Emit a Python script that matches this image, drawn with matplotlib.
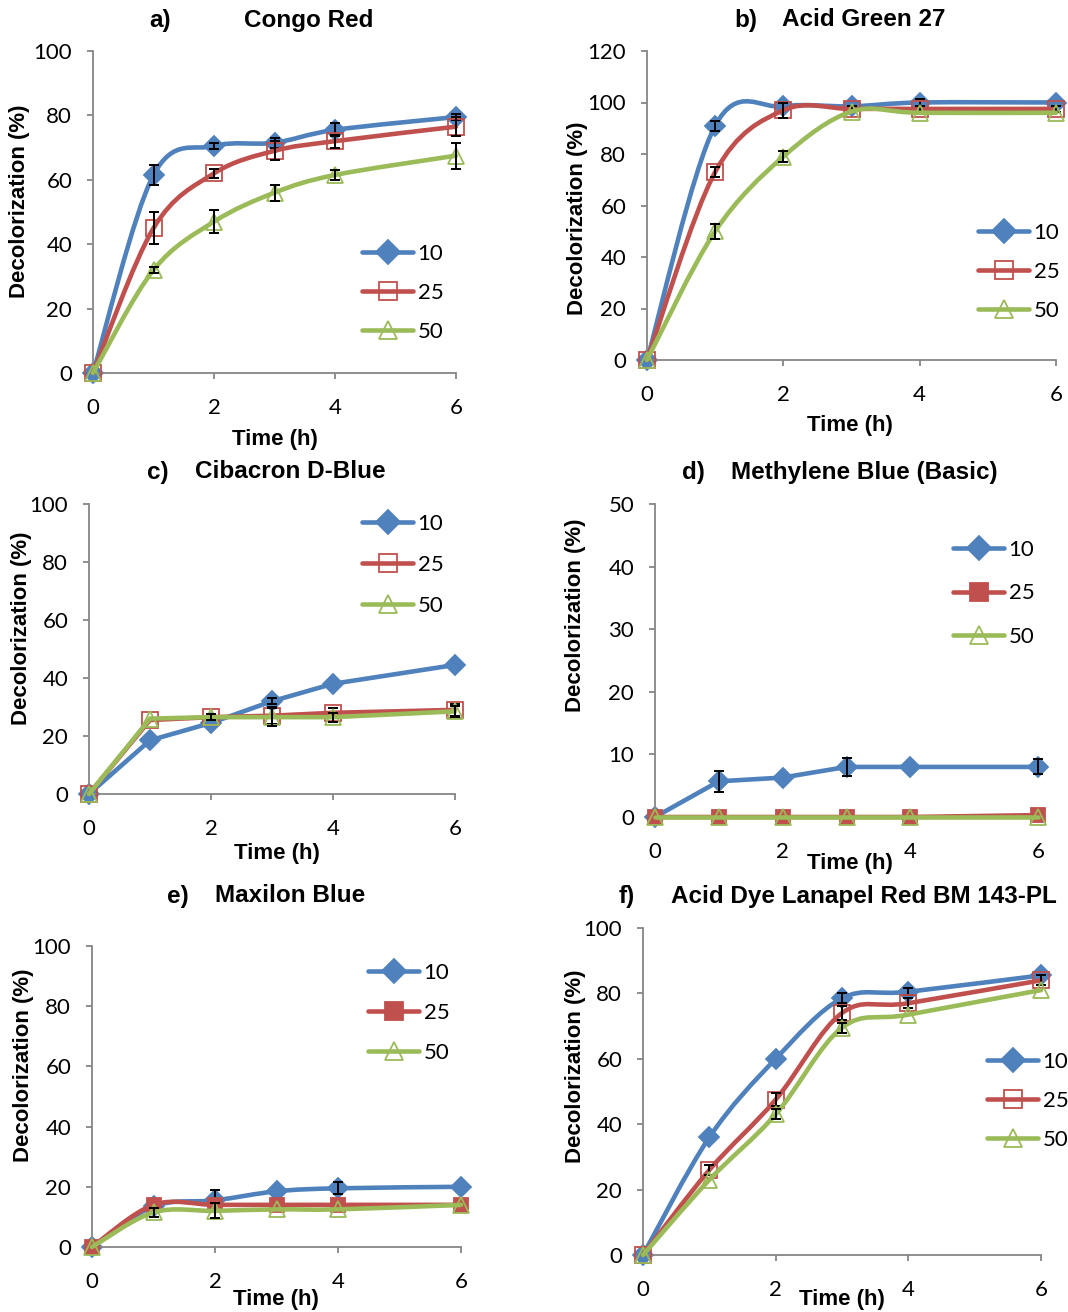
import matplotlib
matplotlib.use("Agg")
import numpy as np
import matplotlib.pyplot as plt
from matplotlib.path import Path
from matplotlib.patches import PathPatch
from matplotlib.lines import Line2D

W, H = 1068, 1312

time_h = [0, 1, 2, 3, 4, 6]
series_names = ["10", "25", "50"]

# a) Congo Red
congo_10 = [0, 61.5, 70.5, 71.5, 75.5, 79.5]
congo_25 = [0, 45, 62, 69, 72, 76.5]
congo_50 = [0, 32, 47, 56, 61.5, 67.5]
congo_err_10 = [0, 3, 1, 1.5, 2, 1]
congo_err_25 = [0, 5, 1.5, 3, 2, 3]
congo_err_50 = [0, 1, 3.5, 2.5, 1.5, 4]

# b) Acid Green 27
green_10 = [0, 91, 98.5, 98.5, 100, 100]
green_25 = [0, 73, 97, 97.5, 97.5, 97.5]
green_50 = [0, 50, 79, 96.5, 96, 96]
green_err_10 = [0, 2, 0, 0, 1.5, 0]
green_err_25 = [0, 2, 3, 1, 1, 1]
green_err_50 = [0, 3, 2, 0, 0, 0]

# c) Cibacron D-Blue
ciba_10 = [0, 18.5, 24.5, 32, 38, 44.5]
ciba_25 = [0, 25.5, 26.5, 27, 28, 29]
ciba_50 = [0, 26, 26.5, 26.5, 26.5, 28.5]
ciba_err_10 = [0, 0, 0, 1, 0, 0]
ciba_err_25 = [0, 0, 1, 3, 1.5, 2]
ciba_err_50 = [0, 0, 1, 3, 1.5, 2]

# d) Methylene Blue (Basic)
methyl_10 = [0, 5.7, 6.3, 8, 8, 8]
methyl_25 = [0, 0, 0, 0, 0, 0.3]
methyl_50 = [0, 0, 0, 0, 0, 0]
methyl_err_10 = [0, 1.7, 0, 1.5, 0, 1.2]
methyl_err_25 = [0, 0, 0, 0, 0, 0]
methyl_err_50 = [0, 0, 0, 0, 0, 0]

# e) Maxilon Blue
maxi_10 = [0, 13.5, 15.5, 18.5, 19.5, 20]
maxi_25 = [0, 14, 14, 14, 14, 14]
maxi_50 = [0, 11.5, 12, 12.5, 12.5, 14]
maxi_err_10 = [0, 0, 3.5, 0, 2, 0]
maxi_err_25 = [0, 0, 0, 0, 0, 0]
maxi_err_50 = [0, 1.5, 2.5, 0, 0, 0]

# f) Acid Dye Lanapel Red BM 143-PL
lana_10 = [0, 36, 60, 78.5, 80.5, 85.5]
lana_25 = [0, 26, 47.5, 74, 77, 84]
lana_50 = [0, 23, 43, 69.5, 73.5, 81]
lana_err_10 = [0, 0, 0, 1.5, 1, 0]
lana_err_25 = [0, 1.5, 2, 2, 1.5, 1.5]
lana_err_50 = [0, 0, 1.5, 1.5, 0, 0]

BLUE = "#4F81BD"
RED = "#C0504D"
GREEN = "#9BBB59"
GRAY = "#868686"

TICK_FONT = "Lato"
BOLD_FONT = "Liberation Sans"


def smooth_path(x, y):
    # excel style smoothed line (catmull-rom bezier through the points)
    pts = list(zip(x, y))
    n = len(pts)
    verts = [pts[0]]
    codes = [Path.MOVETO]
    for i in range(n - 1):
        p0 = pts[i - 1] if i > 0 else pts[i]
        p1 = pts[i]
        p2 = pts[i + 1]
        p3 = pts[i + 2] if i + 2 < n else pts[i + 1]
        c1 = (p1[0] + (p2[0] - p0[0]) / 6, p1[1] + (p2[1] - p0[1]) / 6)
        c2 = (p2[0] - (p3[0] - p1[0]) / 6, p2[1] - (p3[1] - p1[1]) / 6)
        verts += [c1, c2, p2]
        codes += [Path.CURVE4] * 3
    return Path(verts, codes)


def px_axes(fig, left, right, top, bottom):
    return fig.add_axes([left / W, 1 - bottom / H, (right - left) / W, (bottom - top) / H])


def panel(fig, box, ymax, ystep, data, errs, smooth, filled25, letter, title,
          title_pos, ylab_pos, xlab_pos, leg_pos):
    left, right, top, bottom = box
    ax = px_axes(fig, left, right, top, bottom)
    ax.set_xlim(0, 6)
    ax.set_ylim(0, ymax)
    ax.set_xticks([0, 2, 4, 6])
    ax.set_yticks(np.arange(0, ymax + 0.1, ystep))
    for s in ["top", "right"]:
        ax.spines[s].set_visible(False)
    for s in ["left", "bottom"]:
        ax.spines[s].set_color(GRAY)
        ax.spines[s].set_linewidth(1.3)
    ax.tick_params(axis="both", direction="out", length=4, width=1.3, color=GRAY,
                   labelsize=16)
    ax.tick_params(axis="x", pad=14)
    ax.tick_params(axis="y", pad=11)
    for lab in ax.get_xticklabels() + ax.get_yticklabels():
        lab.set_fontfamily(TICK_FONT)

    colors = [BLUE, RED, GREEN]
    markers = ["D", "s", "^"]
    handles = []
    for k in range(3):
        y = data[k]
        c = colors[k]
        if smooth:
            pth = smooth_path(time_h, y)
        else:
            pth = Path(list(zip(time_h, y)))
        patch = PathPatch(pth, facecolor="none", edgecolor=c, lw=3.3,
                          capstyle="round", joinstyle="round", clip_on=False, zorder=2 + k)
        ax.add_patch(patch)
        if k == 0 or (k == 1 and filled25):
            fc = c
            ms = 10 if k == 0 else 10.5
        else:
            fc = "none"
            ms = 11.5
        ax.plot(time_h, y, linestyle="none", marker=markers[k], markersize=ms,
                markerfacecolor=fc, markeredgecolor=c, markeredgewidth=1.3,
                clip_on=False, zorder=2.5 + k)
        handles.append(Line2D([], [], color=c, lw=3.3, marker=markers[k], markersize=ms + 2,
                              markerfacecolor=fc, markeredgecolor=c, markeredgewidth=1.3,
                              solid_capstyle="round"))
        e = np.array(errs[k], dtype=float)
        keep = e > 0
        if keep.any():
            ax.errorbar(np.array(time_h)[keep], np.array(y)[keep], yerr=e[keep], fmt="none",
                        ecolor="black", elinewidth=1.4, capsize=3.5, capthick=1.4,
                        zorder=2.7 + k, clip_on=False)

    fig.text(title_pos[0] / W, 1 - title_pos[1] / H, letter, fontsize=17.5,
             fontweight="bold", family=BOLD_FONT, ha="center", va="center")
    fig.text(title_pos[2] / W, 1 - title_pos[1] / H, title, fontsize=17.5,
             fontweight="bold", family=BOLD_FONT, ha="center", va="center")
    fig.text(ylab_pos[0] / W, 1 - ylab_pos[1] / H, "Decolorization (%)", fontsize=16,
             fontweight="bold", family=BOLD_FONT, ha="center", va="center", rotation=90)
    fig.text(xlab_pos[0] / W, 1 - xlab_pos[1] / H, "Time (h)", fontsize=16,
             fontweight="bold", family=BOLD_FONT, ha="center", va="center")

    ax.legend(handles, series_names, loc="upper left",
              bbox_to_anchor=(leg_pos[0] / W, 1 - leg_pos[1] / H),
              bbox_transform=fig.transFigure, frameon=False, borderpad=0,
              borderaxespad=0, handlelength=2.3, handletextpad=0.2,
              labelspacing=leg_pos[2], prop={"family": TICK_FONT, "size": 16})
    return ax


fig = plt.figure(figsize=(W / 100, H / 100), dpi=100)
fig.patch.set_facecolor("white")

panel(fig, (93, 456, 51, 373), 100, 20,
      [congo_10, congo_25, congo_50], [congo_err_10, congo_err_25, congo_err_50],
      True, False, "a)", "Congo Red", (160, 20, 309), (20, 201), (275, 439),
      (362, 244, 0.85))

panel(fig, (647, 1056, 51, 360), 120, 20,
      [green_10, green_25, green_50], [green_err_10, green_err_25, green_err_50],
      True, False, "b)", "Acid Green 27", (746, 20, 864), (577, 218), (850, 426),
      (978, 223, 0.85))

panel(fig, (89, 455, 504, 794), 100, 20,
      [ciba_10, ciba_25, ciba_50], [ciba_err_10, ciba_err_25, ciba_err_50],
      False, False, "c)", "Cibacron D-Blue", (158, 472, 290), (22, 628), (277, 854),
      (362, 514, 0.95))

panel(fig, (655, 1038, 504, 817), 50, 10,
      [methyl_10, methyl_25, methyl_50], [methyl_err_10, methyl_err_25, methyl_err_50],
      False, True, "d)", "Methylene Blue (Basic)", (693, 472, 864), (576, 615), (850, 863),
      (953, 540, 1.05))

panel(fig, (92, 461, 946, 1247), 100, 20,
      [maxi_10, maxi_25, maxi_50], [maxi_err_10, maxi_err_25, maxi_err_50],
      True, True, "e)", "Maxilon Blue", (178, 896, 290), (24, 1065), (276, 1299),
      (368, 963, 0.9))

panel(fig, (643, 1041, 928, 1255), 100, 20,
      [lana_10, lana_25, lana_50], [lana_err_10, lana_err_25, lana_err_50],
      True, False, "f)", "Acid Dye Lanapel Red BM 143-PL", (627, 896, 864), (576, 1066), (842, 1299),
      (987, 1052, 0.85))

fig.savefig("out.png", dpi=100)
